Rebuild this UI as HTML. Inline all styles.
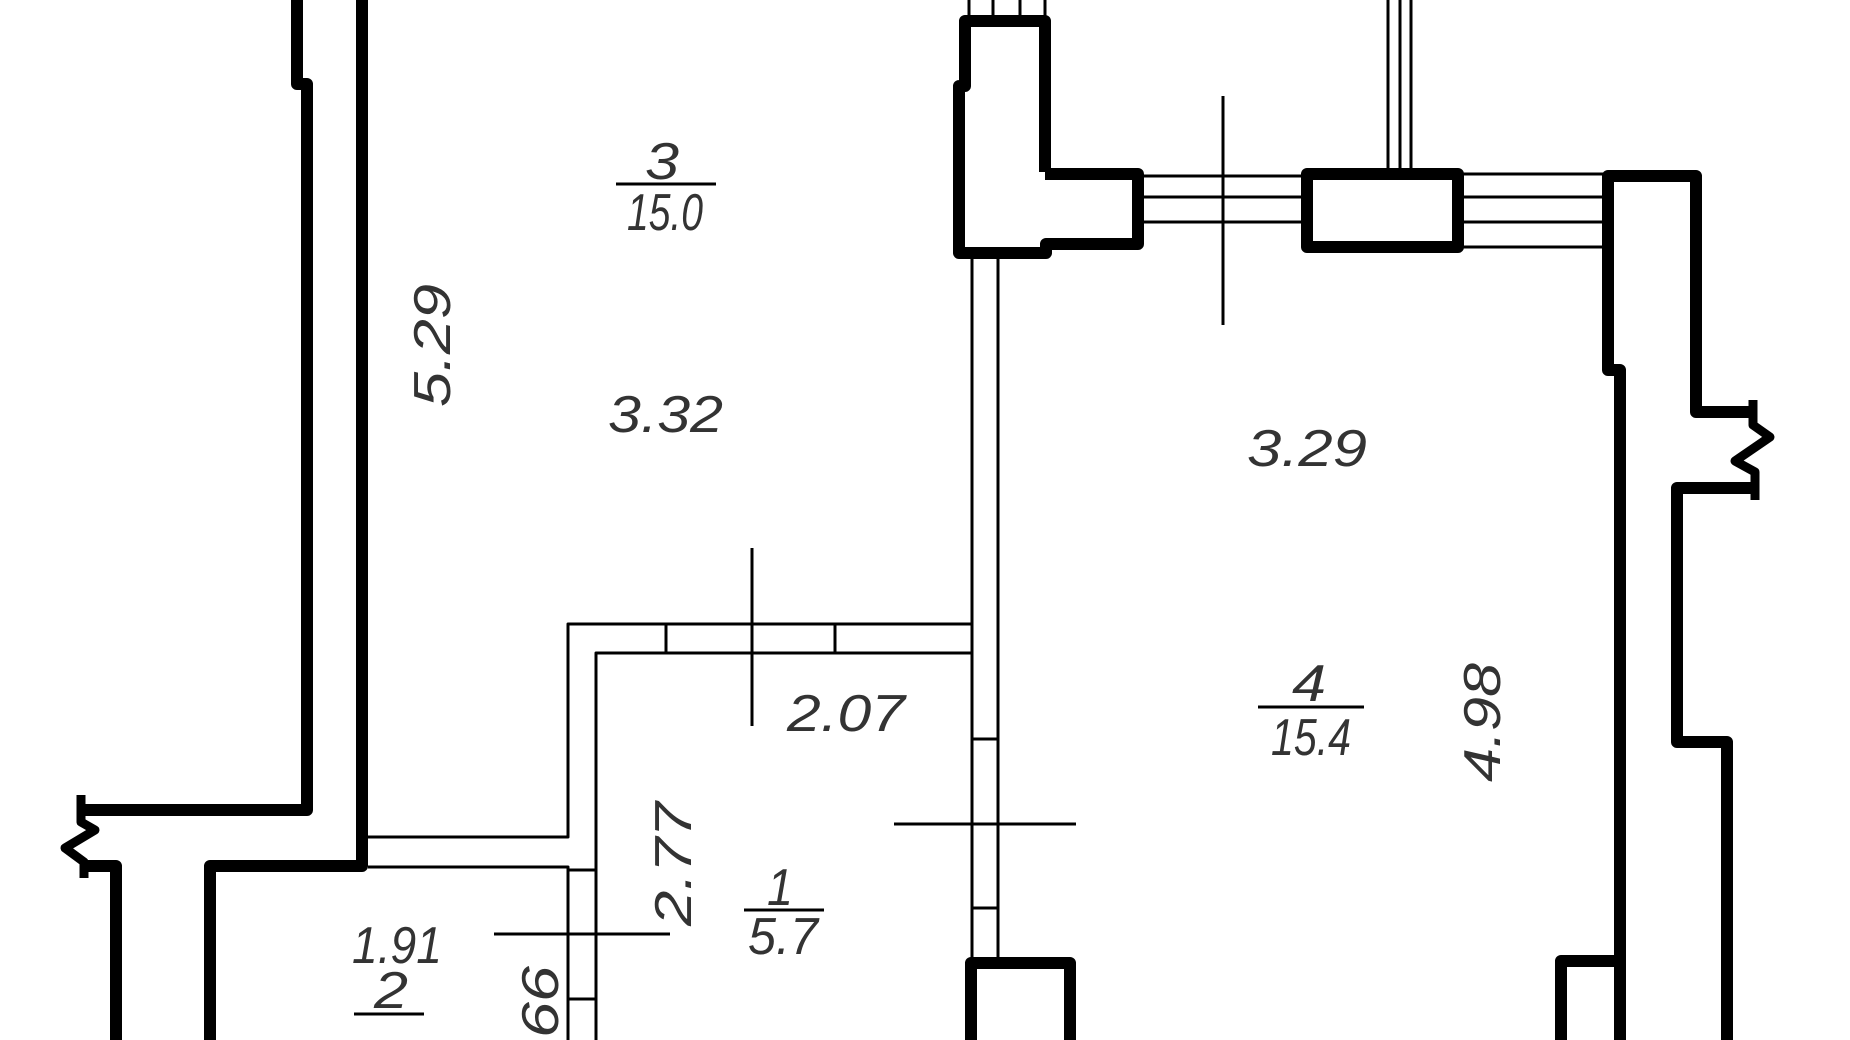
<!DOCTYPE html>
<html><head><meta charset="utf-8"><style>
html,body{margin:0;padding:0;background:#fff;width:1850px;height:1040px;overflow:hidden;}
svg{display:block;overflow:hidden;}
text{font-family:"Liberation Sans",sans-serif;font-style:italic;fill:#333;}
</style></head><body>
<svg width="1850" height="1040" viewBox="0 0 1850 1040" xmlns="http://www.w3.org/2000/svg">
<g fill="none" stroke="#000" stroke-linejoin="round" stroke-linecap="butt">
<g stroke-width="12">
<polyline points="297,0 297,84 307,84 307,810 84,810"/>
<polyline points="84,866 116,866 116,1040"/>
<polyline points="362,0 362,866 210,866 210,1040"/>
<polyline points="1045,172 1045,21 965,21 965,86 959,86 959,253 1046,253 1046,244 1138,244 1138,174 1045,174"/>
<rect x="1307" y="174" width="151" height="73"/>
<polyline points="1608,247 1608,176 1696,176 1696,412 1753,412"/>
<polyline points="1608,176 1608,370 1620,370 1620,1040"/>
<polyline points="1753,488 1677,488 1677,742 1727,742 1727,1040"/>
<polyline points="1620,961 1561,961 1561,1040"/>
<polyline points="971,1040 971,963 1070,963 1070,1040"/>
</g>
<g stroke-width="9">
<polyline points="81,795 81,822 95,830 65,848 84,862 84,878"/>
<polyline points="1753,400 1753,425 1770,437 1735,461 1755,472 1755,500"/>
</g>
<g stroke-width="3">
<line x1="969" y1="0" x2="969" y2="17"/><line x1="993" y1="0" x2="993" y2="17"/>
<line x1="1020" y1="0" x2="1020" y2="17"/><line x1="1045" y1="0" x2="1045" y2="17"/>
<line x1="1388" y1="0" x2="1388" y2="170"/><line x1="1400" y1="0" x2="1400" y2="170"/><line x1="1411" y1="0" x2="1411" y2="170"/>
<line x1="1144" y1="176" x2="1302" y2="176"/><line x1="1144" y1="197" x2="1302" y2="197"/><line x1="1144" y1="222" x2="1302" y2="222"/>
<line x1="1463" y1="174" x2="1603" y2="174"/><line x1="1463" y1="197" x2="1603" y2="197"/><line x1="1463" y1="222" x2="1603" y2="222"/><line x1="1463" y1="247" x2="1603" y2="247"/>
<line x1="972" y1="259" x2="972" y2="958"/><line x1="998" y1="259" x2="998" y2="958"/>
<polyline points="368,837 568,837 568,624 972,624"/>
<polyline points="368,867 568,867 568,1040"/>
<polyline points="596,1040 596,653 972,653"/>
<line x1="666" y1="624" x2="666" y2="653"/><line x1="835" y1="624" x2="835" y2="653"/>
<line x1="568" y1="870" x2="596" y2="870"/><line x1="568" y1="999" x2="596" y2="999"/>
<line x1="972" y1="739" x2="998" y2="739"/><line x1="972" y1="908" x2="998" y2="908"/>
<line x1="1223" y1="96" x2="1223" y2="325"/>
<line x1="752" y1="548" x2="752" y2="726"/>
<line x1="894" y1="824" x2="1076" y2="824"/>
<line x1="494" y1="934" x2="670" y2="934"/>
<line x1="616" y1="184" x2="716" y2="184"/>
<line x1="744" y1="910" x2="824" y2="910"/>
<line x1="1258" y1="707" x2="1364" y2="707"/>
<line x1="354" y1="1014" x2="424" y2="1014"/>
</g>
</g>
<g font-size="52">
<text x="645" y="179" textLength="34" lengthAdjust="spacingAndGlyphs">3</text>
<text x="627" y="230" textLength="76" lengthAdjust="spacingAndGlyphs">15.0</text>
<text x="608" y="432" textLength="115" lengthAdjust="spacingAndGlyphs">3.32</text>
<text x="1247" y="466" textLength="120" lengthAdjust="spacingAndGlyphs">3.29</text>
<text x="787" y="731" textLength="118" lengthAdjust="spacingAndGlyphs">2.07</text>
<text x="767" y="905" textLength="26" lengthAdjust="spacingAndGlyphs">1</text>
<text x="748" y="954" textLength="70" lengthAdjust="spacingAndGlyphs">5.7</text>
<text x="352" y="963" textLength="90" lengthAdjust="spacingAndGlyphs">1.91</text>
<text x="374" y="1008" textLength="34" lengthAdjust="spacingAndGlyphs">2</text>
<text x="1292" y="701" textLength="34" lengthAdjust="spacingAndGlyphs">4</text>
<text x="1271" y="755" textLength="80" lengthAdjust="spacingAndGlyphs">15.4</text>
<text transform="translate(450,407) rotate(-90)" textLength="123" lengthAdjust="spacingAndGlyphs">5.29</text>
<text transform="translate(691,926) rotate(-90)" textLength="124" lengthAdjust="spacingAndGlyphs">2.77</text>
<text transform="translate(1500,782) rotate(-90)" textLength="119" lengthAdjust="spacingAndGlyphs">4.98</text>
<text transform="translate(558,1038) rotate(-90)" textLength="72" lengthAdjust="spacingAndGlyphs">66</text>
</g>
</svg>
</body></html>
